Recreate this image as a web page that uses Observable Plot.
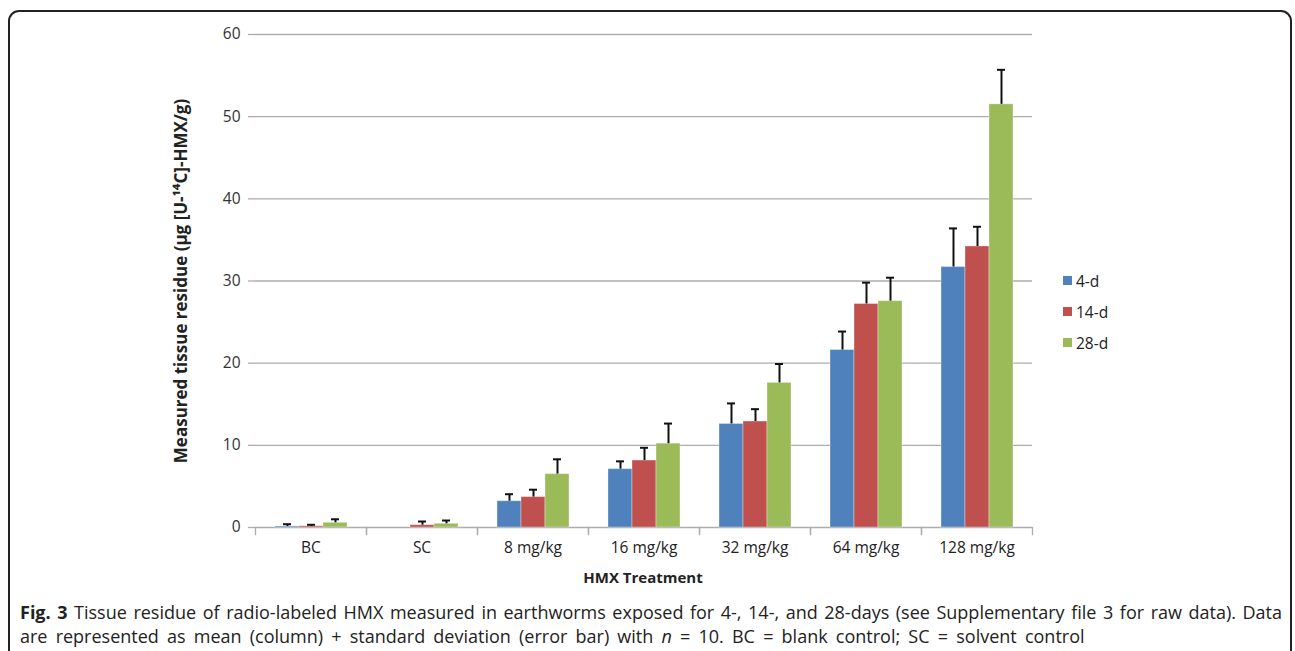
<!DOCTYPE html>
<html><head><meta charset="utf-8">
<script src="https://cdn.jsdelivr.net/npm/d3@7"></script>
<script src="https://cdn.jsdelivr.net/npm/@observablehq/plot@0.6"></script>
<style>
body{margin:0;background:#fff;}
#wrap{position:relative;width:1295px;height:651px;overflow:hidden;font-family:"Open Sans",sans-serif;color:#222;}
#box{position:absolute;left:8px;top:10px;width:1284px;height:670px;border:2px solid #222;border-radius:11px;box-sizing:border-box;}
#chart{position:absolute;left:0;top:0;}
#ylab{position:absolute;left:180px;top:281px;transform:translate(-50%,-50%) rotate(-90deg);white-space:nowrap;font-weight:bold;font-size:17px;color:#222;}
#xlab{position:absolute;left:643px;top:577px;transform:translate(-50%,-50%);white-space:nowrap;font-weight:bold;font-size:15px;color:#222;}
#legend{position:absolute;left:1063px;top:265px;font-size:15.5px;color:#222;}
.item{display:flex;align-items:center;height:31px;}
.sw{width:9px;height:9px;margin-right:4px;}
#caption{position:absolute;left:20px;top:600px;width:1262px;font-size:18px;line-height:24px;color:#222;}
#caption .l1{text-align:justify;text-align-last:justify;white-space:nowrap;}
#caption .l2{white-space:nowrap;word-spacing:3.5px;}
</style></head>
<body>
<div id="wrap">
  <div id="box"></div>
  <div id="chart"></div>
  <div id="ylab">Measured tissue residue (µg [U-¹⁴C]-HMX/g)</div>
  <div id="xlab">HMX Treatment</div>
  <div id="legend"></div>
  <div id="caption">
    <div class="l1"><b>Fig. 3</b> Tissue residue of radio-labeled HMX measured in earthworms exposed for 4-, 14-, and 28-days (see Supplementary file 3 for raw data). Data</div>
    <div class="l2">are represented as mean (column) + standard deviation (error bar) with <i>n</i> = 10. BC = blank control; SC = solvent control</div>
  </div>
</div>
<script>
const categories = ["BC", "SC", "8 mg/kg", "16 mg/kg", "32 mg/kg", "64 mg/kg", "128 mg/kg"];
const series = ["4-d", "14-d", "28-d"];
const colors = ["#4F81BD", "#C0504D", "#9BBB59"];
const mean4  = [0.12, 0,    3.2, 7.1,  12.6, 21.6,  31.7];
const sd4    = [0.28, 0,    0.85, 0.95, 2.5, 2.25,  4.7];
const mean14 = [0.15, 0.28, 3.7, 8.15, 12.9, 27.2,  34.2];
const sd14   = [0.18, 0.45, 0.9, 1.55, 1.5,  2.6,   2.4];
const mean28 = [0.57, 0.45, 6.5, 10.2, 17.6, 27.55, 51.5];
const sd28   = [0.43, 0.4,  1.8, 2.45, 2.3,  2.85,  4.2];
const yTicks = [0, 10, 20, 30, 40, 50, 60];

const means = [mean4, mean14, mean28];
const sds = [sd4, sd14, sd28];
const data = [];
categories.forEach((c, i) => series.forEach((s, j) => {
  data.push({cat: c, series: s, mean: means[j][i], sd: sds[j][i]});
}));
const errs = data.filter(d => d.sd > 0);

const gray = "#adadad";
const chart = Plot.plot({
  width: 1295,
  height: 600,
  marginLeft: 255,
  marginRight: 263,
  marginTop: 34,
  marginBottom: 73,
  style: {fontFamily: "Open Sans, sans-serif", fontSize: "15.5px", color: "#333", background: "transparent"},
  fx: {domain: categories, padding: 0, label: null},
  x: {domain: series, paddingInner: 0, paddingOuter: 0.765, axis: null},
  y: {domain: [0, 60], label: null},
  color: {domain: series, range: colors},
  marks: [
    Plot.gridY(yTicks, {stroke: gray, strokeOpacity: 1, strokeWidth: 1.3}),
    Plot.frame({anchor: "left", stroke: gray, strokeWidth: 1.3, insetTop: 493, insetBottom: -7}),
    Plot.frame({anchor: "right", stroke: gray, strokeWidth: 1.3, insetTop: 493, insetBottom: -7}),
    Plot.barY(data, {fx: "cat", x: "series", y: "mean", fill: "series", stroke: "#fff", strokeOpacity: 0.35, strokeWidth: 1}),
    Plot.ruleX(errs, {fx: "cat", x: "series", y1: "mean", y2: d => d.mean + d.sd, stroke: "#111", strokeWidth: 2}),
    Plot.tickY(errs, {fx: "cat", x: "series", y: d => d.mean + d.sd, stroke: "#111", strokeWidth: 2, insetLeft: 8, insetRight: 8}),
    Plot.axisY(yTicks, {tickSize: 7, tickPadding: 8, stroke: gray, strokeWidth: 1.3, line: true, label: null, fill: "#333"}),
    Plot.axisFx({anchor: "bottom", tickSize: 0, tickPadding: 14, label: null, fill: "#222"})
  ]
});
document.getElementById("chart").appendChild(chart);

const legend = d3.select("#legend");
series.forEach((s, i) => {
  const it = legend.append("div").attr("class", "item");
  it.append("div").attr("class", "sw").style("background", colors[i]);
  it.append("span").text(s);
});
</script>
</body></html>
